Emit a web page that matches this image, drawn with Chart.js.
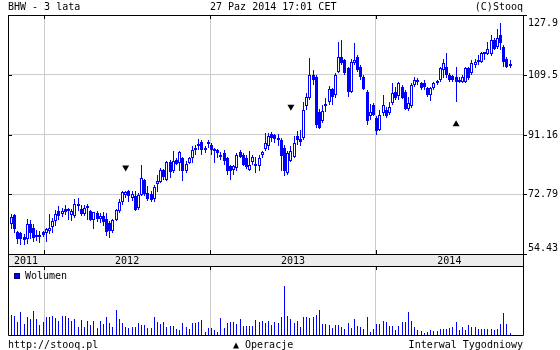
<!DOCTYPE html>
<html>
<head>
<meta charset="utf-8">
<script src="https://cdn.jsdelivr.net/npm/chart.js@4.4.0/dist/chart.umd.min.js"></script>
<style>
  html, body { margin: 0; padding: 0; background: #fff; }
  #wrap { position: relative; width: 560px; height: 350px; overflow: hidden; font: 10px "DejaVu Sans Mono", monospace; color: #000; }
  #wrap canvas { position: absolute; left: 0; }
  .txt { position: absolute; line-height: 10px; white-space: pre; }
  #legendBox { position: absolute; left: 14px; top: 273px; width: 4px; height: 4px; background: #0000ff; border: 1px solid #00007a; }
</style>
</head>
<body>
<div id="wrap">
  <canvas id="priceChart" width="560" height="267" style="top:0"></canvas>
  <canvas id="volumeChart" width="560" height="83" style="top:267px"></canvas>
  <div class="txt" style="left:8px; top:2px">BHW - 3 lata</div>
  <div class="txt" style="left:210px; top:2px">27 Paz 2014 17:01 CET</div>
  <div class="txt" style="right:37px; top:2px">(C)Stooq</div>
  <div id="legendBox"></div>
  <div class="txt" style="left:25px; top:271px">Wolumen</div>
  <div class="txt" style="left:8px; top:340px">http://stooq.pl</div>
  <div class="txt" style="left:233px; top:340px">▲ Operacje</div>
  <div class="txt" style="right:37px; top:340px">Interwal Tygodniowy</div>
</div>
<script>
// weekly candles, index 0 = week of 21 Oct 2011
const opens = [
  63.5, 66.3, 61.2, 61.0, 59.7, 59.1, 63.8, 62.5, 59.7, 59.8,
  61.2, 61.0, 61.5, 62.7, 64.5, 67.6, 66.8, 68.3, 68.1, 66.5,
  66.1, 69.6, 68.3, 66.6, 68.6, 67.6, 65.0, 67.1, 65.3, 66.0,
  65.2, 64.0, 61.5, 65.0, 67.6, 70.4, 72.7, 73.7, 71.5, 72.2,
  68.6, 72.7, 77.3, 73.2, 73.0, 71.4, 75.8, 76.5, 80.3, 77.1,
  82.6, 79.8, 83.2, 82.4, 83.9, 79.8, 82.4, 83.9, 86.7, 87.5,
  89.0, 86.3, 88.3, 88.0, 86.5, 86.5, 84.9, 85.5, 83.9, 81.4,
  80.4, 80.9, 85.7, 84.9, 83.9, 80.4, 82.6, 82.2, 81.4, 85.0,
  86.7, 87.5, 91.3, 90.9, 89.8, 89.5, 87.0, 79.3, 83.0, 84.4,
  90.6, 89.8, 90.0, 99.8, 102.3, 109.6, 108.9, 98.2, 95.2, 100.0,
  101.1, 105.2, 103.3, 110.5, 115.1, 114.0, 111.5, 104.3, 113.0, 115.1,
  112.0, 108.9, 104.3, 96.7, 100.3, 96.2, 92.6, 97.7, 98.7, 97.7,
  100.8, 104.3, 103.0, 105.9, 104.3, 98.9, 99.8, 106.4, 107.6, 106.9,
  106.9, 105.4, 103.3, 105.4, 107.0, 107.9, 111.0, 112.0, 109.4, 109.1,
  108.9, 107.4, 107.4, 107.4, 111.5, 110.0, 112.5, 113.8, 113.5, 116.1,
  115.8, 115.8, 120.2, 118.1, 121.7, 118.1, 114.5, 112.7
];
const highs = [
  66.6, 66.6, 61.5, 61.3, 60.5, 65.3, 64.9, 63.5, 61.7, 61.5,
  61.6, 62.5, 66.6, 65.5, 68.1, 69.1, 68.6, 69.6, 68.6, 68.3,
  71.2, 71.5, 69.6, 69.6, 69.8, 68.1, 67.4, 67.8, 67.1, 67.3,
  67.1, 64.5, 65.2, 68.4, 71.2, 73.7, 73.7, 74.0, 73.7, 73.7,
  73.2, 81.9, 77.5, 75.2, 73.7, 75.5, 78.8, 80.9, 80.6, 82.9,
  83.4, 86.0, 83.9, 86.0, 84.4, 82.9, 84.4, 87.5, 88.0, 89.7,
  89.5, 87.5, 89.5, 88.5, 87.0, 86.7, 85.9, 86.5, 84.4, 81.9,
  81.9, 85.5, 86.5, 85.5, 84.9, 86.0, 84.9, 84.4, 84.9, 86.0,
  91.6, 91.6, 91.8, 91.3, 91.2, 90.0, 88.0, 86.0, 87.5, 90.6,
  92.1, 92.6, 101.3, 103.8, 114.8, 111.0, 109.5, 99.0, 100.3, 102.3,
  106.2, 105.4, 110.0, 119.7, 120.2, 114.5, 112.0, 114.5, 119.2, 115.6,
  112.5, 109.4, 104.9, 100.5, 100.8, 96.7, 98.7, 103.3, 99.7, 101.3,
  106.9, 105.9, 107.2, 106.5, 104.9, 102.8, 106.9, 108.9, 108.4, 107.4,
  107.9, 105.9, 105.9, 107.4, 107.9, 112.0, 114.5, 116.1, 110.0, 109.6,
  112.0, 108.9, 109.4, 112.0, 112.0, 114.0, 114.5, 115.6, 116.6, 116.4,
  119.7, 121.7, 120.7, 123.7, 125.3, 118.6, 115.1, 114.0
];
const lows = [
  62.0, 61.0, 57.4, 57.1, 57.2, 57.4, 58.9, 58.1, 58.4, 57.9,
  59.8, 58.1, 60.5, 61.0, 63.0, 65.0, 65.7, 66.4, 65.0, 64.5,
  65.6, 67.6, 66.1, 66.1, 65.0, 64.5, 62.0, 64.3, 64.0, 63.0,
  59.9, 59.4, 61.0, 64.5, 67.1, 69.6, 71.7, 70.4, 70.7, 67.6,
  68.1, 72.2, 72.2, 70.7, 70.4, 70.4, 73.5, 76.3, 77.3, 76.8,
  77.8, 79.3, 81.9, 79.8, 76.8, 79.3, 82.2, 82.4, 84.9, 86.5,
  85.0, 85.5, 87.0, 85.0, 82.4, 83.9, 83.4, 81.9, 78.8, 77.3,
  78.8, 79.8, 83.9, 81.4, 80.6, 79.8, 81.9, 79.3, 79.8, 84.0,
  86.0, 86.5, 89.0, 88.5, 87.5, 80.0, 78.3, 78.8, 82.6, 83.9,
  88.0, 87.5, 89.5, 98.7, 101.8, 106.5, 93.1, 92.8, 94.7, 98.2,
  100.1, 100.3, 102.3, 110.0, 112.5, 109.4, 102.8, 103.8, 112.5, 110.5,
  107.9, 104.9, 94.1, 95.7, 96.7, 91.1, 92.1, 96.7, 96.2, 97.2,
  100.3, 101.8, 101.8, 102.0, 98.7, 98.5, 99.3, 105.9, 106.4, 104.9,
  104.9, 102.8, 101.5, 104.9, 106.4, 107.4, 108.4, 108.4, 107.4, 107.4,
  101.3, 106.9, 106.9, 106.9, 108.0, 109.4, 111.5, 112.5, 113.0, 114.0,
  115.6, 115.3, 117.1, 117.6, 117.0, 112.0, 111.5, 111.5
];
const closes = [
  65.8, 62.0, 59.1, 58.9, 58.7, 63.8, 60.8, 59.4, 60.0, 60.2,
  60.3, 62.2, 62.5, 64.5, 66.8, 66.1, 67.8, 67.3, 67.6, 67.6,
  69.9, 69.1, 66.6, 68.6, 69.0, 65.0, 67.3, 65.2, 66.2, 64.3,
  61.2, 61.5, 65.0, 68.1, 70.4, 73.4, 73.4, 72.2, 73.0, 68.1,
  72.7, 77.8, 73.0, 71.4, 71.0, 75.0, 76.8, 80.3, 78.1, 82.6,
  79.5, 82.9, 82.2, 85.7, 79.8, 82.2, 83.9, 86.5, 86.3, 88.3,
  86.3, 87.0, 88.9, 86.5, 86.0, 85.5, 84.4, 82.9, 79.8, 79.8,
  81.6, 84.9, 84.4, 81.9, 81.2, 81.9, 84.4, 81.4, 83.9, 85.7,
  88.7, 90.6, 90.1, 89.8, 89.5, 84.5, 80.0, 85.5, 86.0, 88.5,
  89.5, 89.0, 98.7, 102.8, 109.6, 108.0, 94.0, 93.3, 98.4, 100.4,
  105.2, 102.8, 109.6, 115.1, 113.0, 110.0, 104.1, 113.5, 114.0, 111.0,
  108.9, 105.2, 95.2, 98.2, 97.2, 92.1, 97.2, 100.3, 96.7, 99.7,
  103.8, 102.3, 106.9, 102.3, 98.9, 101.0, 106.4, 107.9, 107.3, 105.4,
  105.9, 103.3, 105.6, 106.9, 107.4, 111.5, 113.0, 109.4, 107.9, 107.9,
  107.4, 107.9, 108.9, 111.5, 108.4, 113.0, 113.5, 113.3, 116.1, 115.8,
  117.6, 120.2, 117.6, 120.7, 119.2, 113.5, 112.0, 112.3
];
// volume, read as bar heights
const volumes = [
  20, 19, 13, 23, 11, 18, 16, 24, 16, 10,
  13, 18, 18, 19, 17, 14, 19, 19, 17, 14,
  16, 8, 15, 8, 14, 10, 14, 7, 14, 11,
  18, 12, 8, 25, 16, 12, 8, 7, 8, 8,
  12, 10, 10, 7, 7, 18, 13, 11, 13, 8,
  9, 9, 6, 5, 12, 8, 6, 12, 12, 13,
  15, 3, 7, 7, 5, 3, 17, 7, 12, 13,
  13, 11, 16, 9, 9, 9, 9, 15, 13, 14,
  12, 14, 10, 13, 12, 18, 49, 19, 16, 12,
  14, 8, 18, 18, 17, 18, 20, 25, 11, 11,
  10, 7, 10, 10, 8, 6, 12, 7, 16, 9,
  8, 6, 18, 3, 6, 11, 11, 14, 13, 9,
  9, 5, 9, 13, 13, 23, 14, 8, 5, 4,
  2, 3, 5, 4, 4, 6, 6, 6, 7, 8,
  13, 5, 8, 5, 10, 8, 8, 6, 6, 6,
  6, 6, 5, 6, 11, 22, 11, 2
];

// "Operacje" markers
const markerWeeks = [36, 88, 140];
const markerValues = [81.0, 99.7, 94.3];
const markerDirs = ["down", "down", "up"];

// axes
const yTicks = [54.43, 72.79, 91.16, 109.5, 127.9];
const yTickLabels = ["54.43", "72.79", "91.16", "109.5", "127.9"];
const yearLabels = ["2011", "2012", "2013", "2014"];
const yearStarts = [10.3, 62.6, 114.7];

const X_MIN = -1.04;
const X_MAX = 161.06;
const BLUE = "#0000ff";
const FONT = '10px "DejaVu Sans Mono", monospace';

const weeks = opens.map((_, i) => i);

// snap bar elements to whole pixels so the 1px wicks and 3px bodies stay crisp
const pixelSnap = {
  id: "pixelSnap",
  beforeDatasetsDraw(chart) {
    chart.data.datasets.forEach((ds, i) => {
      const meta = chart.getDatasetMeta(i);
      if (meta.type !== "bar") return;
      meta.data.forEach((el) => {
        el.x = Math.floor(el.x) + 0.5;
        el.y = Math.round(el.y);
        el.base = Math.round(el.base);
      });
    });
  },
};

const priceDecor = {
  id: "priceDecor",
  afterDraw(chart) {
    const { ctx, chartArea: a, scales } = chart;
    const x = scales.x;
    const y = scales.y;
    ctx.save();

    // x band with year labels
    ctx.fillStyle = "#ececec";
    ctx.fillRect(a.left + 1, a.bottom + 1, a.right - a.left - 1, 11);
    ctx.strokeStyle = "#000";
    ctx.lineWidth = 1;
    ctx.beginPath();
    ctx.rect(a.left + 0.5, a.top + 0.5, a.right - a.left, a.bottom - a.top);
    ctx.moveTo(a.left + 0.5, a.bottom);
    ctx.lineTo(a.left + 0.5, a.bottom + 13);
    ctx.moveTo(a.right + 0.5, a.bottom);
    ctx.lineTo(a.right + 0.5, a.bottom + 13);
    ctx.moveTo(a.left, a.bottom + 12.5);
    ctx.lineTo(a.right + 1, a.bottom + 12.5);
    // small ticks
    yTicks.forEach((v) => {
      const py = Math.round(y.getPixelForValue(v)) + 0.5;
      ctx.moveTo(a.left, py);
      ctx.lineTo(a.left + 4, py);
      ctx.moveTo(a.right, py);
      ctx.lineTo(a.right + 4, py);
    });
    yearStarts.forEach((v) => {
      const px = Math.round(x.getPixelForValue(v)) + 0.5;
      ctx.moveTo(px, a.top);
      ctx.lineTo(px, a.top + 4);
      ctx.moveTo(px, a.bottom - 4);
      ctx.lineTo(px, a.bottom);
    });
    ctx.stroke();

    ctx.fillStyle = "#000";
    ctx.font = FONT;
    ctx.textBaseline = "alphabetic";
    ctx.textAlign = "center";
    const bounds = [X_MIN, ...yearStarts, X_MAX];
    yearLabels.forEach((lab, i) => {
      const px = (x.getPixelForValue(bounds[i]) + x.getPixelForValue(bounds[i + 1])) / 2;
      ctx.fillText(lab, px, a.bottom + 10);
    });

    ctx.textAlign = "left";
    yTicks.forEach((v, i) => {
      const py = Math.min(Math.max(y.getPixelForValue(v) + 3, a.top + 11), a.bottom - 3);
      ctx.fillText(yTickLabels[i], a.right + 5, py);
    });
    ctx.restore();
  },
};

const volumeDecor = {
  id: "volumeDecor",
  afterDraw(chart) {
    const { ctx, chartArea: a, scales } = chart;
    ctx.save();
    ctx.strokeStyle = "#000";
    ctx.lineWidth = 1;
    ctx.beginPath();
    ctx.moveTo(a.left + 0.5, 0);
    ctx.lineTo(a.left + 0.5, a.bottom + 0.5);
    ctx.lineTo(a.right + 0.5, a.bottom + 0.5);
    ctx.lineTo(a.right + 0.5, 0);
    yearStarts.forEach((v) => {
      const px = Math.round(scales.x.getPixelForValue(v)) + 0.5;
      ctx.moveTo(px, 0);
      ctx.lineTo(px, 3);
    });
    ctx.stroke();
    ctx.restore();
  },
};

new Chart(document.getElementById("priceChart"), {
  type: "bar",
  data: {
    datasets: [
      {
        label: "body",
        data: weeks.map((i) => ({ x: i, y: [opens[i], closes[i]] })),
        backgroundColor: weeks.map((i) => (closes[i] >= opens[i] ? "#ffffff" : BLUE)),
        borderColor: BLUE,
        borderWidth: 1,
        borderSkipped: false,
        barThickness: 3,
        minBarLength: 2,
        grouped: false,
        inflateAmount: 0,
      },
      {
        label: "wick",
        data: weeks.map((i) => ({ x: i, y: [lows[i], highs[i]] })),
        backgroundColor: BLUE,
        borderWidth: 0,
        barThickness: 1,
        grouped: false,
        inflateAmount: 0,
      },
      {
        type: "scatter",
        label: "Operacje",
        data: markerWeeks.map((w, i) => ({ x: w, y: markerValues[i] })),
        pointStyle: "triangle",
        pointRadius: 4,
        rotation: markerDirs.map((d) => (d === "down" ? 180 : 0)),
        backgroundColor: "#000",
        borderColor: "#000",
        borderWidth: 0,
      },
    ],
  },
  options: {
    responsive: false,
    devicePixelRatio: 1,
    animation: false,
    events: [],
    layout: { padding: { left: 8, top: 15, right: 0, bottom: 0 } },
    plugins: { legend: { display: false }, tooltip: { enabled: false } },
    scales: {
      x: {
        type: "linear",
        min: X_MIN,
        max: X_MAX,
        offset: false,
        afterBuildTicks: (s) => {
          s.ticks = yearStarts.map((v) => ({ value: v }));
        },
        afterFit: (s) => {
          s.height = 13;
        },
        ticks: { display: false },
        border: { display: false },
        grid: { color: "#cccccc", lineWidth: 1, drawTicks: false, offset: false },
      },
      y: {
        position: "right",
        min: 54.43,
        max: 127.9,
        afterBuildTicks: (s) => {
          s.ticks = yTicks.map((v) => ({ value: v }));
        },
        afterFit: (s) => {
          s.width = 37;
        },
        ticks: { display: false },
        border: { display: false },
        grid: { color: "#cccccc", lineWidth: 1, drawTicks: false },
      },
    },
  },
  plugins: [pixelSnap, priceDecor],
});

new Chart(document.getElementById("volumeChart"), {
  type: "bar",
  data: {
    datasets: [
      {
        label: "Wolumen",
        data: weeks.map((i) => ({ x: i, y: volumes[i] })),
        backgroundColor: BLUE,
        borderWidth: 0,
        barThickness: 1,
        grouped: false,
        inflateAmount: 0,
      },
    ],
  },
  options: {
    responsive: false,
    devicePixelRatio: 1,
    animation: false,
    events: [],
    layout: { padding: { left: 8, top: 0, right: 37, bottom: 15 } },
    plugins: { legend: { display: false }, tooltip: { enabled: false } },
    scales: {
      x: {
        type: "linear",
        min: X_MIN,
        max: X_MAX,
        offset: false,
        afterBuildTicks: (s) => {
          s.ticks = yearStarts.map((v) => ({ value: v }));
        },
        afterFit: (s) => {
          s.height = 0;
        },
        ticks: { display: false },
        border: { display: false },
        grid: { color: "#cccccc", lineWidth: 1, drawTicks: false, offset: false },
      },
      y: {
        display: false,
        min: 0,
        max: 68,
      },
    },
  },
  plugins: [pixelSnap, volumeDecor],
});
</script>
</body>
</html>
